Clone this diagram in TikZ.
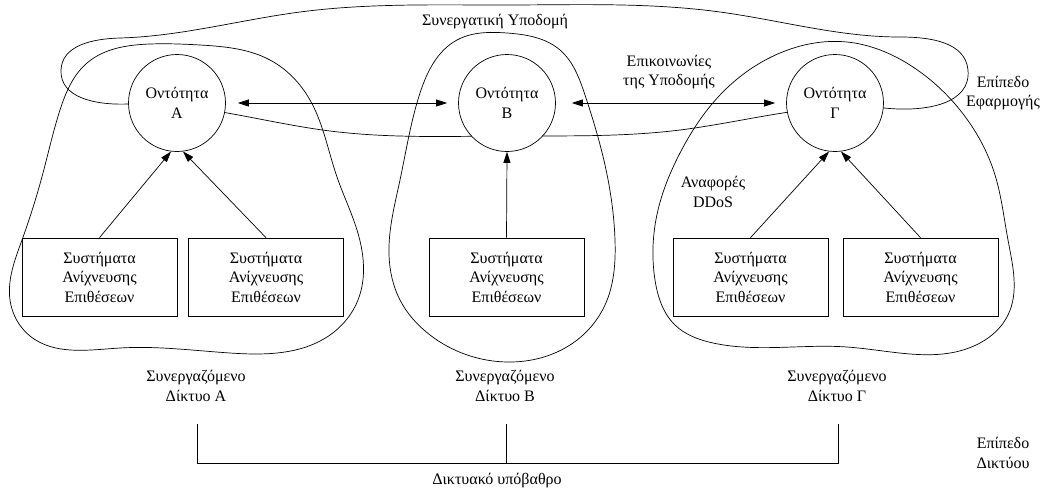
\documentclass[tikz,border=0pt]{standalone}
\usepackage{fontspec}
\setmainfont{Liberation Serif}
\newfontfamily\diagfont{Liberation Serif}
\usetikzlibrary{arrows.meta,calc,hobby}
\begin{document}
\begin{tikzpicture}[x=1pt,y=-1pt,
  font=\diagfont\fontsize{16}{19.5}\selectfont,
  line width=0.7pt,
  entity/.style={circle,draw,fill=white,minimum size=97pt,inner sep=0pt,align=center},
  idsbox/.style={draw,fill=white,minimum width=155pt,minimum height=78pt,inner sep=0pt,align=center},
  lbl/.style={align=center,inner sep=0pt},
  region/.style={line width=0.7pt},
  uparrow/.style={-{Triangle[length=11pt,width=7pt]}},
  biarrow/.style={{Triangle[length=11pt,width=7pt]}-{Triangle[length=11pt,width=7pt]}}
]
\fill[white] (0,0) rectangle (1047,493);
\useasboundingbox (0,0) rectangle (1047,493);

% application layer: the collaborative infrastructure loop
\draw[region] plot[closed hobby] coordinates {
  (61,70) (120,38) (300,12) (507,5) (720,12) (900,37) (968,70)
  (884,108) (680,130) (507,136) (330,131) (128,104)};

% collaborating network A
\draw[region] plot[closed hobby] coordinates {
  (150,44) (87,63) (60,110) (43,173) (22,240) (10,300) (30,336)
  (120,348) (230,353) (330,335) (358,300) (357,230) (337,177)
  (310,100) (270,60) (200,45)};

% collaborating network B
\draw[region] plot[closed hobby] coordinates {
  (507,33) (457,40) (420,93) (400,180) (389,255) (400,300) (430,335)
  (507,362) (573,343) (605,305) (615,240) (605,165) (585,95) (560,50)};

% collaborating network Gamma
\draw[region] plot[closed hobby] coordinates {
  (847,42) (780,53) (720,95) (680,153) (658,210) (655,280) (675,325)
  (713,343) (847,347) (980,343) (1008,315) (1008,240) (995,175)
  (960,110) (913,67)};

% entities
\node[entity] (A) at (177,103) {Οντότητα\\Α};
\node[entity] (B) at (507,103) {Οντότητα\\Β};
\node[entity] (G) at (835,103) {Οντότητα\\Γ};

% intrusion detection systems
\node[idsbox] (a1) at (99.5,277) {Συστήματα\\Ανίχνευσης\\Επιθέσεων};
\node[idsbox] (a2) at (266,277) {Συστήματα\\Ανίχνευσης\\Επιθέσεων};
\node[idsbox] (b1) at (506.5,277) {Συστήματα\\Ανίχνευσης\\Επιθέσεων};
\node[idsbox] (g1) at (750.5,277) {Συστήματα\\Ανίχνευσης\\Επιθέσεων};
\node[idsbox] (g2) at (920.5,277) {Συστήματα\\Ανίχνευσης\\Επιθέσεων};

% reports towards the entities
\draw[uparrow] (a1.north) -- (A.-97);
\draw[uparrow] (a2.north) -- (A.-83);
\draw[uparrow] (b1.north) -- (B.south);
\draw[uparrow] (g1.north) -- (G.-97);
\draw[uparrow] (g2.north) -- (G.-83);

% infrastructure communications
\draw[biarrow, shorten <=12pt, shorten >=11pt] (A) -- (B);
\draw[biarrow, shorten <=16pt, shorten >=11pt] (B) -- (G);

% labels
\node[lbl] (infra) at (495,22) {Συνεργατική Υποδομή};
\node[lbl] (comm) at (669,72) {Επικοινωνίες\\της Υποδομής};
\node[lbl] (applayer) at (1003,93) {Επίπεδο\\Εφαρμογής};
\node[lbl] (ddos) at (713,192) {Αναφορές\\DDoS};
\node[lbl] (netA) at (196,386) {Συνεργαζόμενο\\Δίκτυο Α};
\node[lbl] (netB) at (505,386) {Συνεργαζόμενο\\Δίκτυο Β};
\node[lbl] (netG) at (837,386) {Συνεργαζόμενο\\Δίκτυο Γ};
\node[lbl] (netlayer) at (1003,453) {Επίπεδο\\Δικτύου};
\node[lbl] (substrate) at (497,481) {Δικτυακό υπόβαθρο};

% network substrate bracket
\coordinate (ta) at (197,424);
\coordinate (tb) at (506,424);
\coordinate (tg) at (838,424);
\coordinate (base) at (506,463);
\draw (ta) -- (ta |- base) -- (tg |- base) -- (tg);
\draw (tb) -- (base);
\end{tikzpicture}
\end{document}
